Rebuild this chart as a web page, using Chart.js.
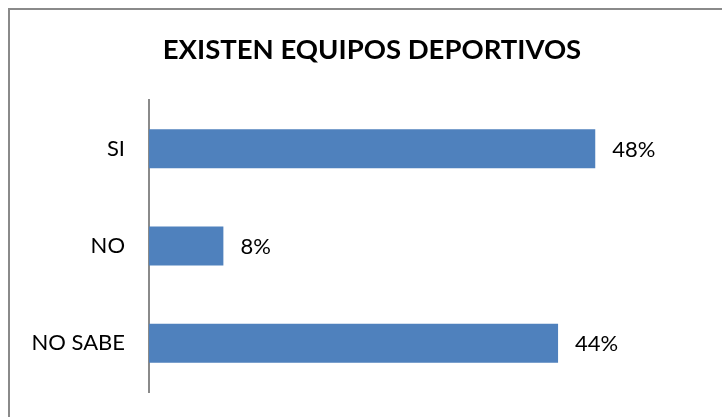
<!DOCTYPE html>
<html><head><meta charset="utf-8">
<script src="https://cdn.jsdelivr.net/npm/chart.js@4"></script>
<style>
html,body{margin:0;padding:0;width:722px;height:417px;overflow:hidden;background:#fff;}
#frame{position:absolute;left:8px;top:8px;width:740px;height:440px;border:2px solid #8a8a8a;box-sizing:border-box;}
#wrap{position:absolute;left:0;top:0;width:744px;height:417px;}
</style></head><body>
<div id="frame"></div>
<div id="wrap"><canvas id="c"></canvas></div>
<script>
const categories = ["SI", "NO", "NO SABE"];
const values = [0.48, 0.08, 0.44];
const titleText = "EXISTEN EQUIPOS DEPORTIVOS";

const FONT = "Lato, 'Open Sans', sans-serif";
const labelPlugin = {
  id: 'valLabels',
  afterDatasetsDraw(chart) {
    const ctx = chart.ctx;
    const meta = chart.getDatasetMeta(0);
    ctx.save();
    ctx.font = "22px " + FONT;
    ctx.fillStyle = "#000";
    ctx.textAlign = "left";
    ctx.textBaseline = "middle";
    meta.data.forEach((bar, i) => {
      ctx.fillText(Math.round(values[i] * 100) + "%", bar.x + 17, bar.y + 1);
    });
    ctx.restore();
  }
};

new Chart(document.getElementById('c'), {
  type: 'bar',
  data: {
    labels: categories,
    datasets: [{
      data: values,
      backgroundColor: '#4f81bd',
      borderWidth: 0,
      barPercentage: 0.4,
      categoryPercentage: 1.0
    }]
  },
  options: {
    indexAxis: 'y',
    responsive: true,
    maintainAspectRatio: false,
    animation: false,
    devicePixelRatio: 1,
    layout: { padding: { left: 0, right: 0, top: 0, bottom: 25 } },
    plugins: {
      legend: { display: false },
      tooltip: { enabled: false },
      title: {
        display: true,
        text: titleText,
        color: '#000',
        font: { family: FONT, size: 27.5, weight: 'bold' },
        padding: { top: 34, bottom: 33 }
      }
    },
    scales: {
      x: { display: false, min: 0, max: 0.64 },
      y: {
        grid: { display: false, drawTicks: false },
        border: { display: true, color: '#8a8a8a', width: 2 },
        ticks: { color: '#000', font: { family: FONT, size: 22 }, padding: 24 },
        afterFit(scale) { scale.width = 149; scale.paddingTop = 0; scale.paddingBottom = 0; }
      }
    }
  },
  plugins: [labelPlugin]
});
</script>
</body></html>
